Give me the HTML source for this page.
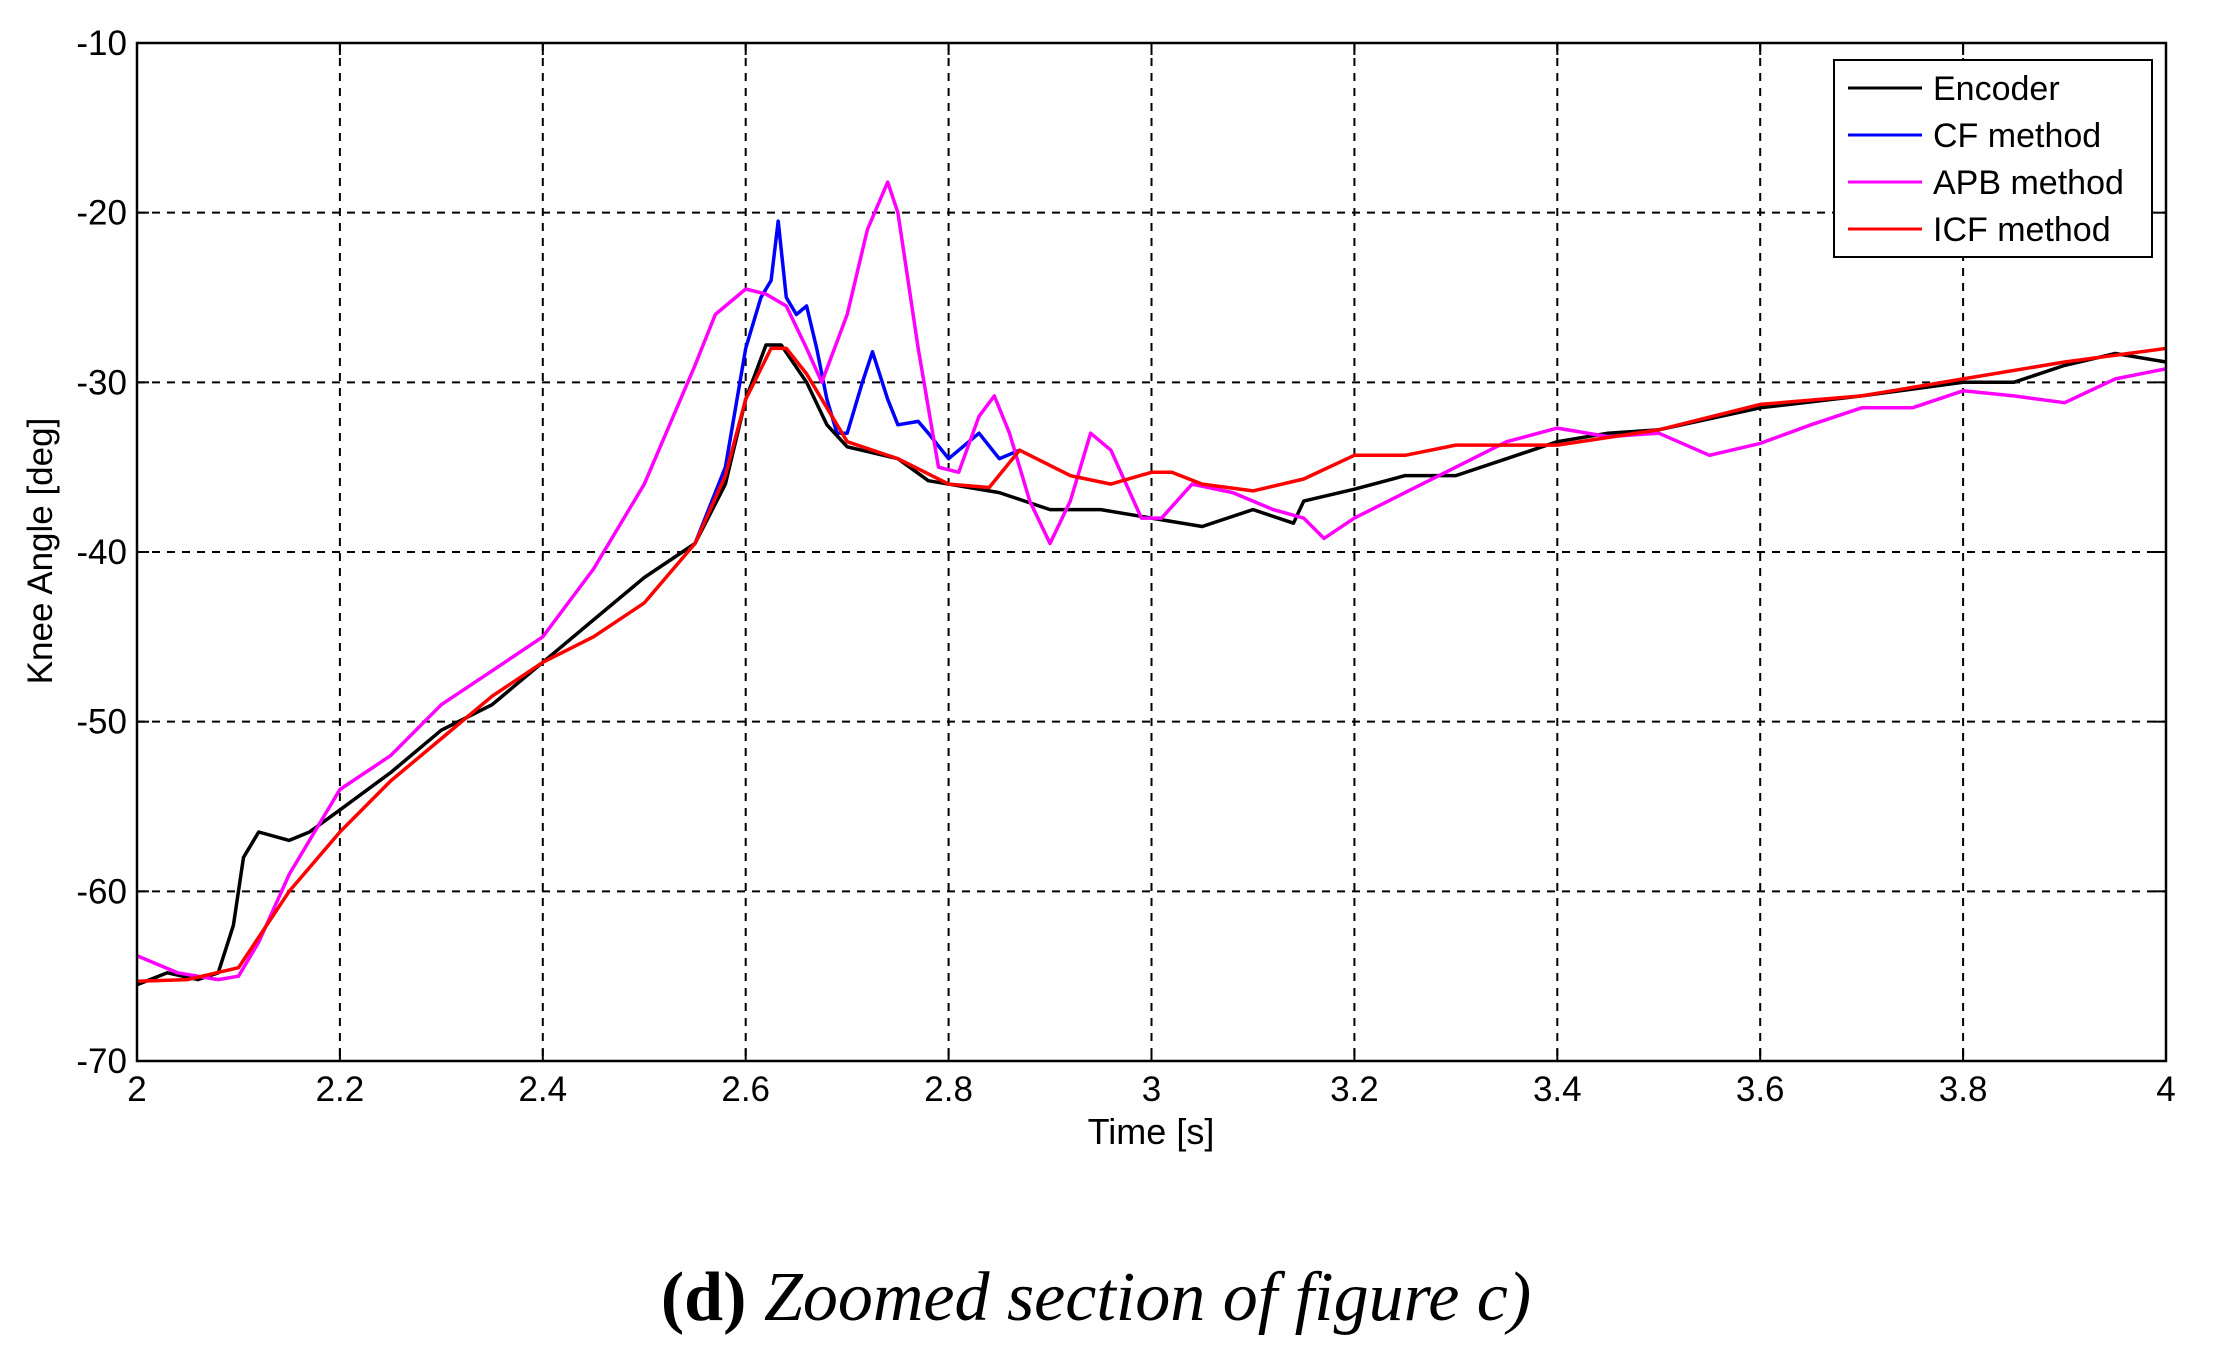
<!DOCTYPE html>
<html><head><meta charset="utf-8"><style>
html,body{margin:0;padding:0;background:#fff;}
svg{display:block;}
</style></head><body>
<svg id="s" width="2213" height="1358" xmlns="http://www.w3.org/2000/svg" font-family="Liberation Sans, Arial, sans-serif">
<rect width="2213" height="1358" fill="#fff"/>
<g id="grid" stroke="#000" stroke-width="2" stroke-dasharray="8,7"></g>
<g id="lines" fill="none" stroke-width="3.5" stroke-linejoin="round"></g>
<rect x="137" y="43" width="2029" height="1018" fill="none" stroke="#000" stroke-width="2.5"/>
<g id="ticks" font-size="35" fill="#000"></g>
<text x="1151" y="1144" font-size="36" text-anchor="middle">Time [s]</text>
<text transform="translate(52,551) rotate(-90)" font-size="35" text-anchor="middle">Knee Angle [deg]</text>
<rect x="1834" y="60" width="318" height="197" fill="#fff" stroke="#000" stroke-width="2"/>
<g font-size="34">
<line x1="1848" y1="88" x2="1922" y2="88" stroke="#000" stroke-width="3"/><text x="1933" y="100">Encoder</text>
<line x1="1848" y1="135" x2="1922" y2="135" stroke="#00f" stroke-width="3"/><text x="1933" y="147">CF method</text>
<line x1="1848" y1="182" x2="1922" y2="182" stroke="#f0f" stroke-width="3"/><text x="1933" y="194">APB method</text>
<line x1="1848" y1="229" x2="1922" y2="229" stroke="#f00" stroke-width="3"/><text x="1933" y="241">ICF method</text>
</g>
<text x="1096" y="1320" font-family="Liberation Serif, serif" font-size="70" text-anchor="middle"><tspan font-weight="bold" font-style="normal">(d)</tspan><tspan font-style="italic"> Zoomed section of figure c)</tspan></text>
</svg>
<script>
const L=137,R=2166,T=43,B=1061;
const X=t=>L+(t-2)/2*(R-L), Y=v=>T+(-10-v)/60*(B-T);
const ns="http://www.w3.org/2000/svg";
function el(p,tag,a,txt){const e=document.createElementNS(ns,tag);for(const k in a)e.setAttribute(k,a[k]);if(txt!==undefined)e.textContent=txt;p.appendChild(e);return e;}
const g=document.getElementById('grid'),tk=document.getElementById('ticks'),ln=document.getElementById('lines');
for(let i=1;i<10;i++){const x=X(2+i*0.2);el(g,'line',{x1:x,y1:T,x2:x,y2:B});}
for(let i=1;i<6;i++){const y=Y(-10-i*10);el(g,'line',{x1:L,y1:y,x2:R,y2:y});}
for(let i=0;i<=10;i++){const t=2+i*0.2;const x=X(t);let s=(Math.round(t*10)/10).toString();el(tk,'text',{x:x,y:1101,'text-anchor':'middle'},s);
 el(tk,'line',{x1:x,y1:B,x2:x,y2:B-12,stroke:'#000','stroke-width':2});el(tk,'line',{x1:x,y1:T,x2:x,y2:T+12,stroke:'#000','stroke-width':2});}
for(let i=0;i<=6;i++){const v=-10-i*10;const y=Y(v);el(tk,'text',{x:127,y:y+12,'text-anchor':'end'},String(v));
 el(tk,'line',{x1:L,y1:y,x2:L+12,y2:y,stroke:'#000','stroke-width':2});el(tk,'line',{x1:R,y1:y,x2:R-12,y2:y,stroke:'#000','stroke-width':2});}
function path(d,c){el(ln,'path',{d:d.map((p,i)=>(i?'L':'M')+X(p[0]).toFixed(1)+' '+Y(p[1]).toFixed(1)).join(''),stroke:c});}
const enc=[[2,-65.5],[2.03,-64.8],[2.06,-65.2],[2.08,-64.8],[2.095,-62],[2.105,-58],[2.12,-56.5],[2.15,-57],[2.17,-56.5],[2.2,-55.2],[2.25,-53],[2.3,-50.5],[2.35,-49],[2.4,-46.5],[2.45,-44],[2.5,-41.5],[2.55,-39.5],[2.58,-36],[2.6,-31],[2.62,-27.8],[2.635,-27.8],[2.66,-30],[2.68,-32.5],[2.7,-33.8],[2.75,-34.5],[2.78,-35.8],[2.85,-36.5],[2.9,-37.5],[2.95,-37.5],[3,-38],[3.05,-38.5],[3.1,-37.5],[3.14,-38.3],[3.15,-37],[3.2,-36.3],[3.25,-35.5],[3.3,-35.5],[3.35,-34.5],[3.4,-33.5],[3.45,-33],[3.5,-32.8],[3.6,-31.5],[3.7,-30.8],[3.8,-30],[3.85,-30],[3.9,-29],[3.95,-28.3],[4,-28.8]];
const red=[[2,-65.3],[2.05,-65.2],[2.1,-64.5],[2.15,-60],[2.2,-56.5],[2.25,-53.5],[2.3,-51],[2.35,-48.5],[2.4,-46.5],[2.45,-45],[2.5,-43],[2.55,-39.5],[2.58,-35.5],[2.6,-31],[2.625,-28],[2.64,-28],[2.66,-29.5],[2.7,-33.5],[2.75,-34.5],[2.8,-36],[2.84,-36.2],[2.87,-34],[2.92,-35.5],[2.96,-36],[3,-35.3],[3.02,-35.3],[3.05,-36],[3.1,-36.4],[3.15,-35.7],[3.2,-34.3],[3.25,-34.3],[3.3,-33.7],[3.4,-33.7],[3.5,-32.8],[3.6,-31.3],[3.7,-30.8],[3.8,-29.8],[3.9,-28.8],[4,-28]];
const cf=[[2.55,-39.5],[2.58,-35],[2.6,-28],[2.615,-25],[2.625,-24],[2.632,-20.5],[2.64,-25],[2.65,-26],[2.66,-25.5],[2.67,-28],[2.68,-31],[2.69,-33],[2.7,-33],[2.715,-30],[2.725,-28.2],[2.74,-31],[2.75,-32.5],[2.77,-32.3],[2.78,-33],[2.8,-34.5],[2.82,-33.5],[2.83,-33],[2.85,-34.5],[2.87,-34]];
const apb=[[2,-63.8],[2.04,-64.8],[2.08,-65.2],[2.1,-65],[2.12,-63],[2.15,-59],[2.2,-54],[2.25,-52],[2.3,-49],[2.35,-47],[2.4,-45],[2.45,-41],[2.5,-36],[2.55,-29],[2.57,-26],[2.6,-24.5],[2.62,-24.8],[2.64,-25.5],[2.66,-28],[2.675,-30],[2.7,-26],[2.72,-21],[2.74,-18.2],[2.75,-20],[2.77,-28],[2.79,-35],[2.81,-35.3],[2.83,-32],[2.845,-30.8],[2.86,-33],[2.88,-37],[2.9,-39.5],[2.92,-37],[2.94,-33],[2.96,-34],[2.99,-38],[3.01,-38],[3.04,-36],[3.08,-36.5],[3.12,-37.5],[3.15,-38],[3.17,-39.2],[3.2,-38],[3.25,-36.5],[3.3,-35],[3.35,-33.5],[3.4,-32.7],[3.45,-33.2],[3.5,-33],[3.55,-34.3],[3.6,-33.6],[3.65,-32.5],[3.7,-31.5],[3.75,-31.5],[3.8,-30.5],[3.85,-30.8],[3.9,-31.2],[3.95,-29.8],[4,-29.2]];
path(cf,'#00f');path(enc,'#000');path(apb,'#f0f');path(red,'#f00');
</script>
</body></html>
